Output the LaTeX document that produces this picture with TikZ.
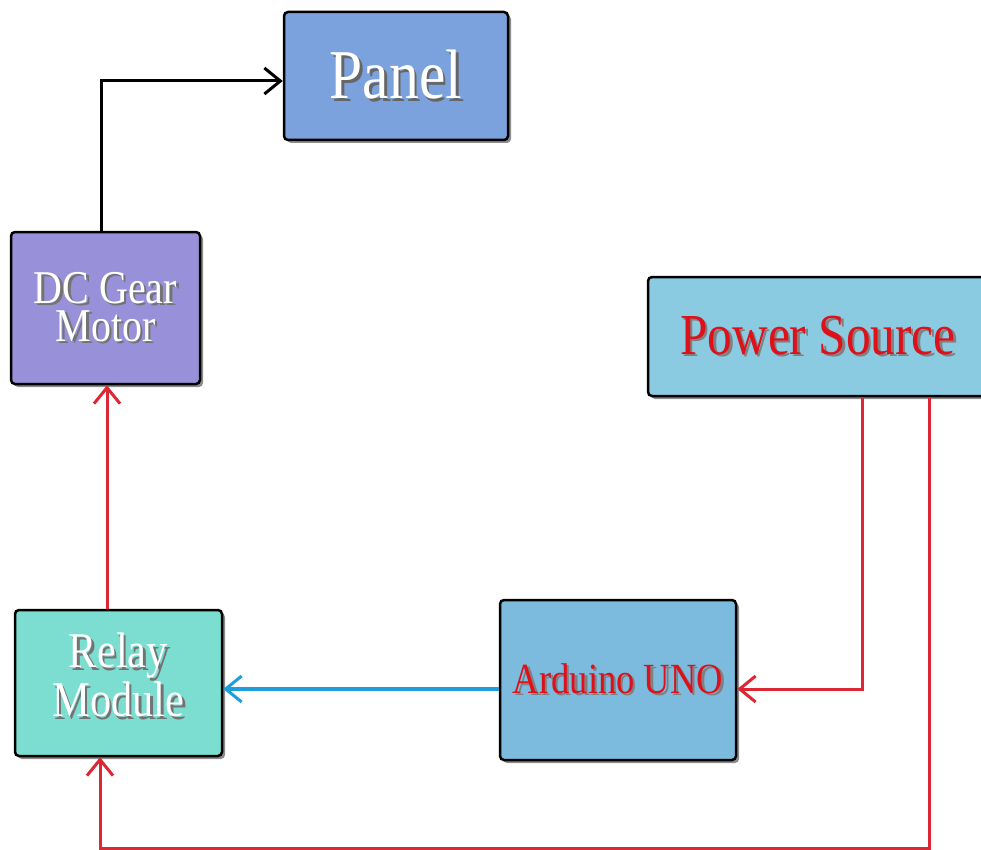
\documentclass[tikz,border=0pt]{standalone}
\usepackage{fontspec}
\newfontfamily\tnr[FakeStretch=0.85]{Liberation Serif}
\usetikzlibrary{arrows.meta,shadows}
\definecolor{panelc}{RGB}{124,162,222}
\definecolor{motorc}{RGB}{152,145,218}
\definecolor{powerc}{RGB}{139,203,226}
\definecolor{arduc}{RGB}{124,186,222}
\definecolor{relayc}{RGB}{124,222,208}
\definecolor{redl}{RGB}{220,40,52}
\definecolor{bluel}{RGB}{30,158,218}
\definecolor{redt}{RGB}{222,16,26}
\newcommand{\shd}[2]{\makebox[0pt][l]{\kern2.5pt\raisebox{-2.5pt}{\color{#1}#2}}#2}
\begin{document}
\begin{tikzpicture}[x=1pt,y=-1pt,
  blk/.style={draw=black,line width=2.5pt,rounded corners=4pt,
    drop shadow={shadow xshift=3pt,shadow yshift=-3pt,opacity=0.45,fill=black},
    inner sep=0pt,align=center},
  tip/.style={-{Straight Barb[length=16pt,width=26pt,line width=3pt]}},
  blackline/.style={tip,draw=black,line width=3pt},
  redarrow/.style={tip,draw=redl,line width=3pt},
  bluearrow/.style={tip,draw=bluel,line width=3.5pt}]
\useasboundingbox (0,0) rectangle (981,850);
\clip (0,0) rectangle (981,850);
\fill[white] (0,0) rectangle (981,850);

\node[blk,fill=panelc,minimum width=224pt,minimum height=128pt,text=white,
  font={\tnr\fontsize{70}{70}\selectfont}] (panel) at (396,76) {\shd{black!60}{Panel}};
\node[blk,fill=motorc,minimum width=189pt,minimum height=152pt,text=white,
  font={\tnr\fontsize{47}{38}\selectfont}] (motor) at (105.5,308)
  {\shd{black!55}{DC Gear}\\\shd{black!55}{Motor}};
\node[blk,fill=powerc,minimum width=340pt,minimum height=119pt,text=redt,
  font={\tnr\fontsize{58}{58}\selectfont}] (power) at (818,336.5) {\shd{black!50}{Power Source}};
\node[blk,fill=arduc,minimum width=236pt,minimum height=160pt,text=redt,
  font={\tnr\fontsize{43}{43}\selectfont}] (arduino) at (618,680) {\shd{black!50}{Arduino UNO}};
\node[blk,fill=relayc,minimum width=207pt,minimum height=146pt,text=white,
  text depth=16pt,
  font={\tnr\fontsize{50}{38}\selectfont}] (relay) at (118.5,683)
  {\shd{black!55}{Relay}\\\shd{black!55}{Module}};

\coordinate (mx) at (101,81);
\coordinate (rx) at (107,0);
\coordinate (ay) at (0,689);
\coordinate (p1) at (862,689);
\coordinate (p2) at (929,848);
\coordinate (p3) at (100,848);

\draw[blackline] (motor.north -| mx) |- (panel.west |- mx);
\draw[redarrow] (relay.north -| rx) -- (motor.south -| rx);
\draw[bluearrow] (arduino.west |- ay) -- (relay.east |- ay);
\draw[redarrow] (power.south -| p1) |- (arduino.east |- ay);
\draw[redarrow] (power.south -| p2) -- (p2) -- (p3) -- (relay.south -| p3);
\end{tikzpicture}
\end{document}
